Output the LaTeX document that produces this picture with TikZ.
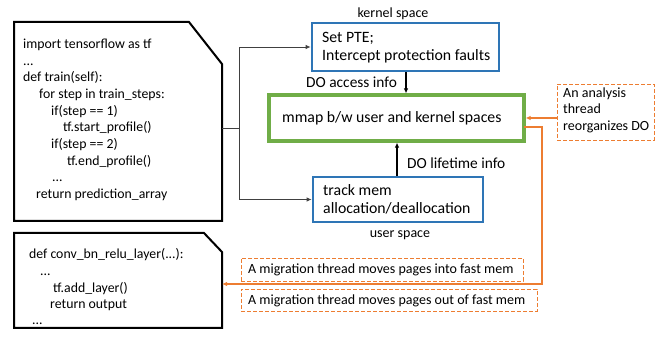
\documentclass[tikz,border=0pt]{standalone}
\usepackage{fontspec}
\setmainfont{Carlito}
\usetikzlibrary{arrows.meta}
\definecolor{oblue}{HTML}{2E75B6}
\definecolor{ogreen}{HTML}{70AD47}
\definecolor{oorange}{HTML}{ED7D31}
\begin{document}
\begin{tikzpicture}[x=1pt,y=-1pt,
  codebox/.style={draw=black,line width=2pt,line join=miter},
  codeline/.style={anchor=base west,inner sep=0pt,font=\fontsize{13.8}{16}\selectfont},
  bluebox/.style={draw=oblue,line width=2.8pt,inner sep=0pt},
  greenbox/.style={draw=ogreen,line width=3.2pt,inner sep=0pt},
  dashbox/.style={draw=oorange,line width=0.8pt,dash pattern=on 4pt off 2pt,inner sep=0pt},
  lbl/.style={inner sep=0pt,font=\fontsize{15.8}{18}\selectfont},
  dol/.style={inner sep=0pt,font=\fontsize{15.4}{18}\selectfont},
  small/.style={inner sep=0pt,font=\fontsize{14}{16.5}\selectfont},
  conn/.style={draw=black!75,line width=0.8pt},
  tip/.style={-{Latex[length=5pt,width=4.5pt]}},
  oarrow/.style={draw=oorange,line width=2pt,-{Latex[length=5pt,width=4.5pt]}}
]
\useasboundingbox (0,0) rectangle (662,339);

% code box 1
\draw[codebox] (14,22) -- (189,22) -- (222,64) -- (222,221) -- (14,221) -- cycle;
\node[codeline] (c1) at (23,49) {import tensorflow as tf};
\node[codeline] (c2) at (23,65.5) {...};
\node[codeline] (c3) at (23,82) {def train(self):};
\node[codeline] (c4) at (39,99) {for step in train\_steps:};
\node[codeline] (c5) at (51,115.5) {if(step == 1)};
\node[codeline] (c6) at (63,132) {tf.start\_profile()};
\node[codeline] (c7) at (51,149) {if(step == 2)};
\node[codeline] (c8) at (67,165.5) {tf.end\_profile()};
\node[codeline] (c9) at (52,182) {...};
\node[codeline] (c10) at (36,199) {return prediction\_array};

% code box 2
\draw[codebox] (14,233) -- (204,233) -- (222,252) -- (222,328) -- (14,328) -- cycle;
\node[codeline] (d1) at (29,259) {def conv\_bn\_relu\_layer(...):};
\node[codeline] (d2) at (40,276) {...};
\node[codeline] (d3) at (53,293) {tf.add\_layer()};
\node[codeline] (d4) at (50,309) {return output};
\node[codeline] (d5) at (32,325) {...};

% kernel box
\node[bluebox,minimum width=187pt,minimum height=48pt] (kern) at (405.5,47) {};
\node[lbl,anchor=west,align=left] (kt) at (322,48) {Set PTE;\\Intercept protection faults};
\node[small] (kl) at (393,14) {kernel space};

% green box
\node[greenbox,minimum width=255pt,minimum height=46pt] (green) at (396.5,118) {};
\node[lbl,anchor=west] (gt) at (282,118) {mmap b/w user and kernel spaces};

% track box
\node[bluebox,minimum width=170pt,minimum height=45pt] (track) at (398,199.5) {};
\node[lbl,anchor=west,align=left] (tt) at (323,199) {track mem\\allocation/deallocation};
\node[small] (ul) at (400,235) {user space};

% vertical arrows
\draw[line width=1.5pt,tip] (kern.south -| 406,0) -- (green.north -| 406,0);
\node[dol,anchor=base west] (dai) at (306,88) {DO access info};
\draw[line width=1.5pt,tip] (track.north -| 397,0) -- (green.south -| 397,0);
\node[dol,anchor=base west] (dli) at (407,169) {DO lifetime info};

% left connector
\coordinate (cb1) at (222,128);
\coordinate (j) at (239,128);
\draw[conn] (cb1) -- (j);
\draw[conn,tip] (j) |- (kern.west);
\draw[conn,tip] (j) |- (track.west);

% analysis box
\node[dashbox,minimum width=97pt,minimum height=56pt] (ana) at (605.5,112) {};
\node[small,anchor=west,align=left] (at) at (563,110) {An analysis\\thread\\reorganizes DO};
\draw[oarrow] (ana.west |- green.east) -- (green.east);

% migration
\coordinate (gout) at (524,127);
\coordinate (cb2) at (222,284);
\draw[oarrow,line join=miter] (gout) -- (542,127) -- (542,284) -- (cb2);

\node[dashbox,minimum width=282pt,minimum height=23pt] (m1) at (382,269.5) {};
\node[small,anchor=west] (m1t) at (248,270) {A migration thread moves pages into fast mem};
\node[dashbox,minimum width=296pt,minimum height=22pt] (m2) at (389,300) {};
\node[small,anchor=west] (m2t) at (248,301) {A migration thread moves pages out of fast mem};
\end{tikzpicture}
\end{document}
